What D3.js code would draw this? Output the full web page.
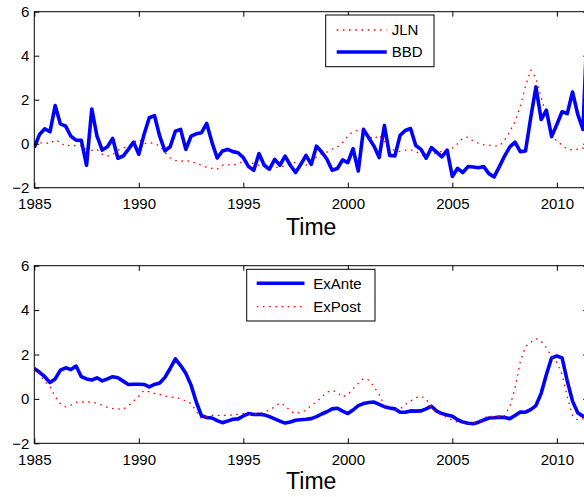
<!DOCTYPE html>
<html>
<head>
<meta charset="utf-8">
<script src="https://cdn.jsdelivr.net/npm/d3@7"></script>
<style>
  body { margin: 0; background: #fff; }
  svg { display: block; font-family: "Liberation Sans", Arial, Helvetica, sans-serif; }
</style>
</head>
<body>
<svg id="chart" width="584" height="497"></svg>
<script>
// Two stacked MATLAB style panels of quarterly uncertainty indices, 1985Q1 to 2011Q2.

const START_YEAR = 1985;
const X_LIMITS = [1985, 2011.5];
const Y_LIMITS = [-2, 6];
const X_TICKS = [1985, 1990, 1995, 2000, 2005, 2010];
const Y_TICKS = [-2, 0, 2, 4, 6];
const X_LABEL = "Time";

// Top panel
const jln = [
  -0.03, 0.03, 0.05, 0.0, 0.18, 0.05, -0.12, -0.05, -0.1, -0.1, -0.25, -0.3,
  -0.25, -0.48, -0.56, -0.5, -0.3, -0.2, -0.1, 0.05, 0.2, 0.0, 0.05, 0.0,
  -0.1, -0.4, -0.65, -0.76, -0.8, -0.77, -0.8, -0.9, -0.98, -1.08, -1.12, -1.16,
  -0.98, -0.95, -0.98, -0.9, -0.8, -0.85, -0.9, -0.98, -1.0, -0.98, -1.05, -1.09,
  -0.98, -0.9, -0.85, -0.9, -0.98, -0.85, -0.6, -0.45, -0.38, -0.25, -0.15, 0.05,
  0.35, 0.55, 0.62, 0.65, 0.34, 0.2, 0.4, 0.1, -0.15, -0.33, -0.35, -0.3,
  -0.28, -0.35, -0.5, -0.56, -0.48, -0.42, -0.35, -0.3, -0.2, 0.0, 0.25, 0.3,
  0.12, 0.02, -0.05, -0.06, -0.1, -0.1, 0.15, 0.55, 1.0, 1.7, 2.6, 3.35,
  3.0, 2.1, 1.3, 0.5, 0.1, -0.05, -0.26, -0.28, -0.25, -0.2, -0.2
];
const bbd = [
  -0.18, 0.42, 0.68, 0.54, 1.73, 0.9, 0.8, 0.34, 0.16, 0.15, -0.98, 1.58,
  0.34, -0.29, -0.14, 0.24, -0.66, -0.56, -0.26, 0.07, -0.48, 0.42, 1.18, 1.28,
  0.34, -0.33, -0.14, 0.57, 0.65, -0.26, 0.34, 0.45, 0.5, 0.92, 0.06, -0.65,
  -0.33, -0.26, -0.36, -0.41, -0.63, -1.04, -1.21, -0.45, -0.98, -1.16, -0.71, -0.98,
  -0.56, -0.98, -1.31, -0.94, -0.53, -0.94, -0.11, -0.38, -0.71, -1.21, -1.13, -0.74,
  -0.86, -0.23, -1.24, 0.65, 0.27, -0.11, -0.63, 0.83, -0.53, -0.56, 0.38,
  0.6, 0.69, -0.08, -0.26, -0.66, -0.18, -0.38, -0.6, -0.29, -1.49, -1.12, -1.31,
  -1.04, -1.06, -1.09, -1.04, -1.36, -1.51, -1.04, -0.56, -0.14, 0.07, -0.36, -0.33,
  1.18, 2.58, 1.1, 1.52, 0.32, 0.87, 1.45, 1.37, 2.35, 1.33, 0.65, 6.5
];

// Bottom panel
const exAnte = [
  1.37, 1.2, 1.0, 0.74, 0.9, 1.3, 1.4, 1.32, 1.48, 1.0, 0.9, 0.85,
  0.95, 0.81, 0.9, 1.0, 0.95, 0.8, 0.65, 0.66, 0.66, 0.65, 0.54, 0.65,
  0.72, 0.97, 1.37, 1.8, 1.5, 1.15, 0.62, -0.14, -0.76, -0.84, -0.86, -0.98,
  -1.07, -1.0, -0.92, -0.9, -0.77, -0.66, -0.7, -0.69, -0.72, -0.8, -0.9, -1.0,
  -1.09, -1.04, -0.96, -0.94, -0.92, -0.89, -0.8, -0.68, -0.58, -0.45, -0.42, -0.55,
  -0.66, -0.5, -0.3, -0.21, -0.16, -0.14, -0.25, -0.35, -0.41, -0.45, -0.6, -0.6,
  -0.54, -0.55, -0.54, -0.45, -0.33, -0.55, -0.66, -0.72, -0.78, -0.94, -1.04, -1.1,
  -1.12, -1.05, -0.95, -0.86, -0.85, -0.82, -0.84, -0.89, -0.75, -0.59, -0.6, -0.48,
  -0.3, 0.25, 1.1, 1.85, 1.93, 1.85, 0.8, -0.1, -0.62, -0.78, -0.8
];
const exPost = [
  1.4, 1.1, 0.78, 0.55, 0.1, -0.22, -0.36, -0.28, -0.15, -0.14, -0.14, -0.14,
  -0.2, -0.29, -0.38, -0.43, -0.45, -0.47, -0.32, -0.1, 0.12, 0.39, 0.32, 0.25,
  0.2, 0.12, 0.1, 0.05, 0.02, -0.1, -0.21, -0.55, -0.89, -0.8, -0.74, -0.74,
  -0.74, -0.74, -0.72, -0.7, -0.66, -0.68, -0.7, -0.66, -0.6, -0.5, -0.36, -0.18,
  -0.3, -0.55, -0.66, -0.6, -0.51, -0.29, -0.14, 0.1, 0.3, 0.39, 0.3, 0.09,
  0.2, 0.45, 0.7, 0.92, 0.85, 0.55, 0.2, -0.3, -0.48, -0.5, -0.45, -0.25,
  -0.1, 0.05, 0.12, 0.0, -0.4, -0.62, -0.72, -0.85, -0.96, -1.05, -1.1, -1.12,
  -1.1, -1.0, -0.85, -0.8, -0.78, -0.8, -0.75, -0.35, 0.5, 1.67, 2.35, 2.55,
  2.72, 2.6, 2.3, 1.9, 1.65, 1.1, 0.1, -0.75, -0.95, -0.9, -0.85
];

const BLUE = "#0000ff";
const RED = "#ff0000";
const SOLID = { color: BLUE, width: 3.6, dash: null };
const DOTTED = { color: RED, width: 1.3, dash: "1.6 4.6" };

const panels = [
  {
    top: 11.7, bottom: 187.7, titleY: 235,
    series: [
      { name: "JLN", values: jln, style: DOTTED },
      { name: "BBD", values: bbd, style: SOLID },
    ],
    legend: { x: 325.7, y: 15, w: 108.3, h: 51.7, lineX: [336.7, 386.7], textX: 391.7, rows: [30, 52] },
  },
  {
    top: 265.7, bottom: 443.3, titleY: 489,
    series: [
      { name: "ExAnte", values: exAnte, style: SOLID },
      { name: "ExPost", values: exPost, style: DOTTED },
    ],
    legend: { x: 246.7, y: 269.3, w: 128.3, h: 51.7, lineX: [256.7, 304.5], textX: 313.3, rows: [283.3, 306.7] },
  },
];

const svg = d3.select("#chart");
const x = d3.scaleLinear().domain(X_LIMITS).range([34.3, 588.2]);
const fmt = d3.format("d");

panels.forEach((p, i) => {
  const y = d3.scaleLinear().domain(Y_LIMITS).range([p.bottom, p.top]);
  const g = svg.append("g");

  // Clip the lines to the axes box.
  const clipId = "clip" + i;
  g.append("clipPath").attr("id", clipId)
    .append("rect")
    .attr("x", x.range()[0]).attr("y", p.top)
    .attr("width", x.range()[1] - x.range()[0]).attr("height", p.bottom - p.top);

  const line = d3.line()
    .x((d, k) => x(START_YEAR + k / 4))
    .y((d) => y(d));

  const lines = g.append("g").attr("clip-path", `url(#${clipId})`);
  for (const s of p.series) {
    lines.append("path")
      .datum(s.values)
      .attr("fill", "none")
      .attr("stroke", s.style.color)
      .attr("stroke-width", s.style.width)
      .attr("stroke-dasharray", s.style.dash)
      .attr("stroke-linejoin", "round")
      .attr("d", line);
  }

  // Axes: ticks point inward on all four sides, the box is drawn separately.
  const axisStyle = (sel) => {
    sel.select(".domain").remove();
    sel.selectAll(".tick line").attr("stroke", "#000").attr("stroke-width", 1);
    sel.selectAll(".tick text").attr("fill", "#000").attr("font-size", 15)
      .attr("font-family", "Liberation Sans, Arial, sans-serif");
  };

  g.append("g").attr("transform", `translate(0,${p.bottom})`)
    .call(d3.axisBottom(x).tickValues(X_TICKS).tickFormat(fmt).tickSizeInner(-5).tickSizeOuter(0).tickPadding(11))
    .call(axisStyle);
  g.append("g").attr("transform", `translate(0,${p.top})`)
    .call(d3.axisTop(x).tickValues(X_TICKS).tickFormat("").tickSizeInner(-5).tickSizeOuter(0))
    .call(axisStyle);
  g.append("g").attr("transform", `translate(${x.range()[0]},0)`)
    .call(d3.axisLeft(y).tickValues(Y_TICKS).tickSizeInner(-5).tickSizeOuter(0).tickPadding(5))
    .call(axisStyle);
  g.append("g").attr("transform", `translate(${x.range()[1]},0)`)
    .call(d3.axisRight(y).tickValues(Y_TICKS).tickFormat("").tickSizeInner(-5).tickSizeOuter(0))
    .call(axisStyle);

  g.append("rect")
    .attr("x", x.range()[0]).attr("y", p.top)
    .attr("width", x.range()[1] - x.range()[0]).attr("height", p.bottom - p.top)
    .attr("fill", "none").attr("stroke", "#000").attr("stroke-width", 1);

  g.append("text")
    .attr("x", (x.range()[0] + x.range()[1]) / 2)
    .attr("y", p.titleY)
    .attr("text-anchor", "middle")
    .attr("font-size", 23)
    .text(X_LABEL);

  // Legend box
  const L = p.legend;
  const lg = g.append("g");
  lg.append("rect")
    .attr("x", L.x).attr("y", L.y).attr("width", L.w).attr("height", L.h)
    .attr("fill", "#fff").attr("stroke", "#000").attr("stroke-width", 1);
  p.series.forEach((s, k) => {
    lg.append("line")
      .attr("x1", L.lineX[0]).attr("x2", L.lineX[1])
      .attr("y1", L.rows[k]).attr("y2", L.rows[k])
      .attr("stroke", s.style.color)
      .attr("stroke-width", s.style.width)
      .attr("stroke-dasharray", s.style.dash);
    lg.append("text")
      .attr("x", L.textX).attr("y", L.rows[k])
      .attr("dy", "0.36em")
      .attr("font-size", 15)
      .text(s.name);
  });
});
</script>
</body>
</html>
